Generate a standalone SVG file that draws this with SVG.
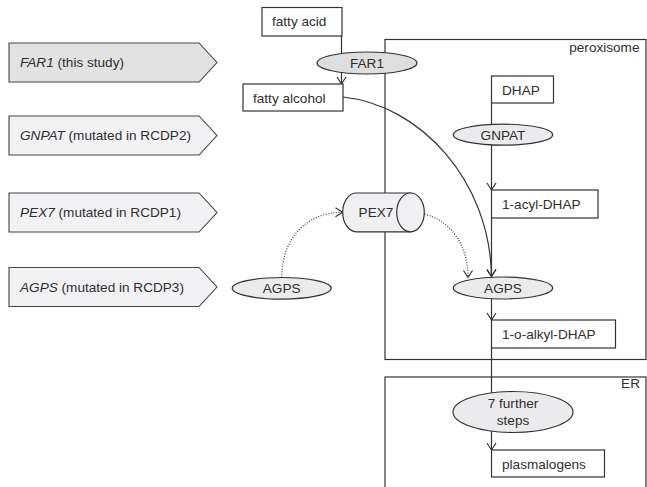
<svg xmlns="http://www.w3.org/2000/svg" width="647" height="487" viewBox="0 0 647 487">
<style>
text{font-family:"Liberation Sans",Arial,sans-serif;font-size:13.6px;fill:#2e2e2e}
.it{font-style:italic}
.box{fill:#fff;stroke:#333;stroke-width:1.2}
.comp{fill:none;stroke:#333;stroke-width:1.2}
.ell{fill:#ebebed;stroke:#333;stroke-width:1.2}
.ell1{fill:#dedede;stroke:#333;stroke-width:1.2}
.pent{fill:#f2f2f4;stroke:#444;stroke-width:1.1}
.pent1{fill:#e2e2e2;stroke:#444;stroke-width:1.1}
.cyl{fill:#f0f0f2;stroke:#333;stroke-width:1.2}
.ln{fill:none;stroke:#333;stroke-width:1.2}
.dot{fill:none;stroke:#333;stroke-width:1.2;stroke-dasharray:1 1.6}
.mid{text-anchor:middle}
.end{text-anchor:end}
</style>
<defs>
<marker id="arr" markerUnits="userSpaceOnUse" markerWidth="12" markerHeight="12" refX="0" refY="0" viewBox="-8 -6 10 12" orient="auto">
<path d="M-7,-4.5 L0,0 L-7,4.5" fill="none" stroke="#333" stroke-width="1.2"/>
</marker>
</defs>

<g id="legend">
<g id="leg-far1"><path class="pent1" d="M9,43 H199 L217,62.5 L199,82 H9 Z"/><text x="20" y="67"><tspan class="it">FAR1</tspan> (this study)</text></g>
<g id="leg-gnpat"><path class="pent" d="M9,116 H199 L217,135.5 L199,155 H9 Z"/><text x="20" y="140"><tspan class="it">GNPAT</tspan> (mutated in RCDP2)</text></g>
<g id="leg-pex7"><path class="pent" d="M9,193 H199 L217,212.5 L199,232 H9 Z"/><text x="20" y="217"><tspan class="it">PEX7</tspan> (mutated in RCDP1)</text></g>
<g id="leg-agps"><path class="pent" d="M9,267.5 H199 L217,287 L199,306.5 H9 Z"/><text x="20" y="291.5"><tspan class="it">AGPS</tspan> (mutated in RCDP3)</text></g>
</g>

<g id="peroxisome"><rect class="comp" x="385" y="39.5" width="261" height="320"/><text class="end" x="639.5" y="51.5">peroxisome</text></g>
<g id="er"><rect class="comp" x="385" y="377" width="261" height="130"/><text class="end" x="640" y="388">ER</text></g>

<g id="connectors">
<path class="ln" d="M341.5,36 V84" marker-end="url(#arr)"/>
<path class="ln" d="M343,97 C420,105 490,180 491.5,276.5" marker-end="url(#arr)"/>
<path class="ln" d="M491.5,103 V190" marker-end="url(#arr)"/>
<path class="ln" d="M491.5,218 V276.5" marker-end="url(#arr)"/>
<path class="ln" d="M491.5,299 V320" marker-end="url(#arr)"/>
<path class="ln" d="M491.5,348 V450" marker-end="url(#arr)"/>
<path class="dot" d="M281.7,277.5 C281.7,240 305,212.3 342.5,212.3" marker-end="url(#arr)"/>
<path class="dot" d="M409,212.3 C445,212.3 468,240 468,277.5" marker-end="url(#arr)"/>
</g>

<g id="fatty-acid"><rect class="box" x="262" y="7.5" width="80" height="28.5"/><text x="272" y="26">fatty acid</text></g>
<g id="far1"><ellipse class="ell1" cx="367" cy="63" rx="50" ry="11"/><text class="mid" x="367" y="68">FAR1</text></g>
<g id="fatty-alcohol"><rect class="box" x="243" y="84" width="100" height="27"/><text x="253" y="102.5">fatty alcohol</text></g>
<g id="dhap"><rect class="box" x="491.5" y="76" width="62" height="27"/><text x="502" y="95">DHAP</text></g>
<g id="gnpat"><ellipse class="ell" cx="503" cy="134.7" rx="49.7" ry="10.5"/><text class="mid" x="503" y="140">GNPAT</text></g>
<g id="acyl-dhap"><rect class="box" x="491.5" y="190" width="106.5" height="28"/><text x="502" y="209">1-acyl-DHAP</text></g>
<g id="pex7">
<path class="cyl" d="M410.5,193 H356.5 A13.8,19.4 0 0 0 356.5,231.8 H410.5 Z"/>
<ellipse class="cyl" cx="410.5" cy="212.4" rx="13.8" ry="19.4"/>
<text class="mid" x="376" y="217">PEX7</text>
</g>
<g id="agps-cyto"><ellipse class="ell" cx="281.7" cy="288.3" rx="49.5" ry="10.8"/><text class="mid" x="281.7" y="293.3">AGPS</text></g>
<g id="agps-perox"><ellipse class="ell" cx="503" cy="288" rx="49.7" ry="11"/><text class="mid" x="503" y="293">AGPS</text></g>
<g id="alkyl-dhap"><rect class="box" x="491.5" y="320" width="124" height="28"/><text x="502" y="339">1-o-alkyl-DHAP</text></g>
<g id="further-steps"><ellipse class="ell" cx="513" cy="412" rx="60" ry="20.5"/><text class="mid" x="513" y="408">7 further</text><text class="mid" x="513" y="425">steps</text></g>
<g id="plasmalogens"><rect class="box" x="491.5" y="450" width="113" height="27"/><text x="502" y="468.5">plasmalogens</text></g>
</svg>
